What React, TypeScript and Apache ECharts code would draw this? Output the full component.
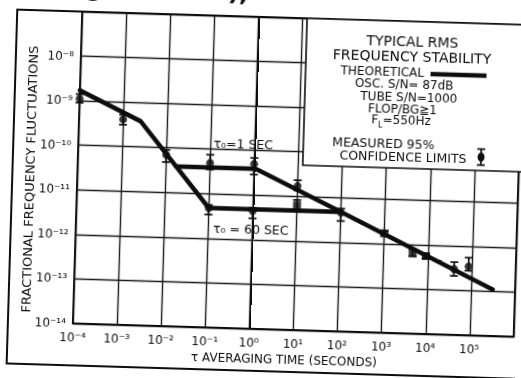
import React, { useEffect, useRef } from "react";
import * as echarts from "echarts";

// Theoretical curves: tau (s) -> fractional frequency fluctuation
const theoryLowTau = [1e-4, 2.5e-3, 1e-1, 1e2];
const theoryLowVal = [1.7e-9, 3.8e-10, 4.8e-12, 4.8e-12];
const theoryHighTau = [1.7e-2, 1.1, 1e2, 3.1e5];
const theoryHighVal = [3.9e-11, 3.9e-11, 4.8e-12, 1.1e-13];

// Measured points with 95% confidence limits
const measTau = [1e-4, 1e-3, 1e-2, 1e-1, 1e-1, 1, 1, 10, 10, 100, 1000, 4.5e3, 9e3, 4e4, 8.5e4];
const measVal = [1.1e-9, 4.1e-10, 7e-11, 4.9e-11, 4.8e-12, 5e-11, 4.4e-12, 1.7e-11, 6.3e-12, 4.6e-12, 1.7e-12, 6.5e-13, 5.6e-13, 3e-13, 3.5e-13];
const measLo = [9e-10, 3.1e-10, 4.8e-11, 3.5e-11, 3.4e-12, 2.9e-11, 3e-12, 1.35e-11, 4.8e-12, 3e-12, 1.5e-12, 5.4e-13, 5e-13, 2.1e-13, 2.8e-13];
const measHi = [1.4e-9, 5.2e-10, 9e-11, 7.5e-11, 5.6e-12, 6.8e-11, 5.2e-12, 2.3e-11, 8.3e-12, 5.7e-12, 1.9e-12, 7.8e-13, 6.2e-13, 4.3e-13, 5.5e-13];
const measShape = ["circle", "circle", "circle", "circle", "circle", "circle", "circle", "circle", "rect", "circle", "rect", "rect", "rect", "circle", "circle"];

// Tick labels (exponents -4..6 on x, -14..-7 on y)
const xTickLabels = ["10⁻⁴", "10⁻³", "10⁻²", "10⁻¹", "10⁰", "10¹", "10²", "10³", "10⁴", "10⁵", ""];
const yTickLabels = ["10⁻¹⁴", "10⁻¹³", "10⁻¹²", "10⁻¹¹", "10⁻¹⁰", "10⁻⁹", "10⁻⁸", ""];

const FONT = "DejaVu Sans";
const INK = "#0d0d0d";
const lg = (v: number) => Math.log10(v);

function txt(text: string, x: number, y: number, size: number, align = "center", extra: any = {}) {
  return {
    type: "text",
    x,
    y,
    z: 30,
    silent: true,
    style: {
      text,
      fill: INK,
      fontFamily: FONT,
      fontSize: size,
      align,
      textAlign: align,
      verticalAlign: "middle",
      textVerticalAlign: "middle",
      ...extra,
    },
  };
}

export default function App() {
  const ref = useRef<HTMLDivElement>(null);

  useEffect(() => {
    if (!ref.current) return;
    const chart = echarts.init(ref.current, undefined, { renderer: "svg" });

    const lowData = theoryLowTau.map((t, i) => [lg(t), lg(theoryLowVal[i])]);
    const highData = theoryHighTau.map((t, i) => [lg(t), lg(theoryHighVal[i])]);
    const pointData = measTau.map((t, i) => ({
      value: [lg(t), lg(measVal[i])],
      symbol: measShape[i],
    }));
    const barData = measTau.map((t, i) => [lg(t), lg(measLo[i]), lg(measHi[i])]);

    const option: any = {
      animation: false,
      backgroundColor: "#fff",
      grid: {
        left: 77,
        top: 17,
        width: 446,
        height: 312,
        show: true,
        borderColor: INK,
        borderWidth: 2,
        backgroundColor: "transparent",
      },
      xAxis: {
        type: "value",
        min: -4,
        max: 6,
        interval: 1,
        axisLine: { show: true, lineStyle: { color: INK, width: 2 } },
        axisTick: { show: false },
        splitLine: { show: true, lineStyle: { color: "#1a1a1a", width: 1.4 } },
        axisLabel: {
          margin: 8,
          color: INK,
          fontFamily: FONT,
          fontSize: 12,
          formatter: (v: number) => xTickLabels[Math.round(v) + 4] ?? "",
        },
      },
      yAxis: {
        type: "value",
        min: -14,
        max: -7,
        interval: 1,
        axisLine: { show: true, lineStyle: { color: INK, width: 2 } },
        axisTick: { show: false },
        splitLine: { show: true, lineStyle: { color: "#1a1a1a", width: 1.4 } },
        axisLabel: {
          margin: 7,
          color: INK,
          fontFamily: FONT,
          fontSize: 12,
          formatter: (v: number) => yTickLabels[Math.round(v) + 14] ?? "",
        },
      },
      series: [
        {
          type: "line",
          data: lowData,
          symbol: "none",
          z: 3,
          lineStyle: { color: INK, width: 4.5, cap: "round", join: "round" },
        },
        {
          type: "line",
          data: highData,
          symbol: "none",
          z: 3,
          lineStyle: { color: INK, width: 4.5, cap: "round", join: "round" },
        },
        {
          type: "custom",
          z: 4,
          encode: { x: 0, y: [1, 2] },
          data: barData,
          renderItem: (params: any, api: any) => {
            const x = api.value(0);
            const pLo = api.coord([x, api.value(1)]);
            const pHi = api.coord([x, api.value(2)]);
            const w = 4;
            const st = { stroke: INK, lineWidth: 1.7 };
            return {
              type: "group",
              children: [
                { type: "line", shape: { x1: pLo[0], y1: pLo[1], x2: pHi[0], y2: pHi[1] }, style: st },
                { type: "line", shape: { x1: pLo[0] - w, y1: pLo[1], x2: pLo[0] + w, y2: pLo[1] }, style: st },
                { type: "line", shape: { x1: pHi[0] - w, y1: pHi[1], x2: pHi[0] + w, y2: pHi[1] }, style: st },
              ],
            };
          },
        },
        {
          type: "scatter",
          z: 5,
          data: pointData,
          symbolSize: 8,
          itemStyle: { color: INK },
        },
      ],
      graphic: [
        {
          type: "rect",
          z: 1,
          silent: true,
          shape: { x: 12, y: 17, width: 511, height: 354 },
          style: { fill: "none", stroke: INK, lineWidth: 2 },
        },
        txt("g to below),", 80, -7, 24, "left", { fontWeight: "bold" }),
        {
          type: "rect",
          z: 20,
          silent: true,
          shape: { x: 302, y: 17, width: 230, height: 147 },
          style: { fill: "#fff", stroke: INK, lineWidth: 1.6 },
        },
        txt("TYPICAL RMS", 408, 37, 14),
        txt("FREQUENCY STABILITY", 408, 52, 14),
        txt("THEORETICAL", 337, 68, 12, "left"),
        {
          type: "line",
          z: 30,
          silent: true,
          shape: { x1: 427, y1: 69, x2: 483, y2: 69 },
          style: { stroke: INK, lineWidth: 4.5 },
        },
        txt("OSC. S/N= 87dB", 401, 80, 12),
        txt("TUBE S/N=1000", 406, 92.5, 12),
        txt("FLOP/BG≧1", 400, 105, 12),
        txt("{f|F}{s|L}{f|=550Hz}", 399, 117.5, 12, "center", {
          rich: {
            f: { fontSize: 12, fontFamily: FONT, fill: INK, lineHeight: 16, verticalAlign: "top" },
            s: { fontSize: 8, fontFamily: FONT, fill: INK, lineHeight: 10, verticalAlign: "bottom" },
          },
        }),
        txt("MEASURED 95%", 382, 139, 12.5),
        txt("CONFIDENCE LIMITS", 402, 152, 12.5),
        {
          type: "group",
          x: 480,
          y: 150.5,
          z: 30,
          silent: true,
          children: [
            { type: "line", z: 30, shape: { x1: 0, y1: -8, x2: 0, y2: 8 }, style: { stroke: INK, lineWidth: 1.7 } },
            { type: "line", z: 30, shape: { x1: -4, y1: -8, x2: 4, y2: -8 }, style: { stroke: INK, lineWidth: 1.7 } },
            { type: "line", z: 30, shape: { x1: -4, y1: 8, x2: 4, y2: 8 }, style: { stroke: INK, lineWidth: 1.7 } },
            { type: "ellipse", z: 30, shape: { cx: 0, cy: 0, rx: 3.5, ry: 4.5 }, style: { fill: INK } },
          ],
        },
        txt("τ₀=1 SEC", 242, 144.5, 12.5),
        txt("τ₀ = 60 SEC", 252, 229, 12.5),
        txt("FRACTIONAL FREQUENCY FLUCTUATIONS", 29, 186, 13, "center", {}),
        txt("τ AVERAGING TIME (SECONDS)", 289, 359, 12),
      ],
    };
    // rotate the y-axis title
    option.graphic[option.graphic.length - 2].rotation = Math.PI / 2;

    chart.setOption(option);
    return () => chart.dispose();
  }, []);

  return (
    <div
      style={{
        position: "fixed",
        left: 0,
        top: 0,
        width: 521,
        height: 378,
        background: "#fff",
        transform: "rotate(1.72deg)",
        transformOrigin: "50% 50%",
      }}
    >
      <div ref={ref} style={{ width: 521, height: 378 }} />
    </div>
  );
}
